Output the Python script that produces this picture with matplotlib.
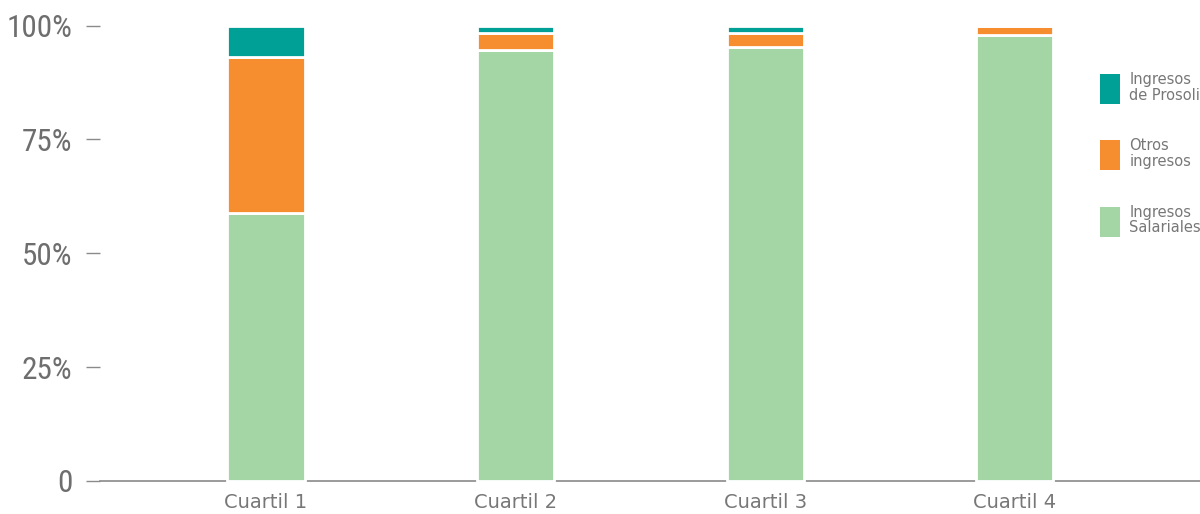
import matplotlib
matplotlib.use("Agg")
import matplotlib.pyplot as plt
import numpy as np

# Income composition by quartile (% of total income)
categories = ["Cuartil 1", "Cuartil 2", "Cuartil 3", "Cuartil 4"]
ingresos_salariales = [58.8, 94.7, 95.2, 98.0]
otros_ingresos = [34.3, 3.7, 3.2, 2.0]
ingresos_prosoli = [6.9, 1.6, 1.6, 0.0]

series_labels = ["Ingresos\nSalariales", "Otros\ningresos", "Ingresos\nde Prosoli"]
series_colors = ["#a3d5a5", "#f68d2e", "#00a096"]

y_ticks = [0, 25, 50, 75, 100]
y_tick_labels = ["0", "25%", "50%", "75%", "100%"]

W, H = 1200, 514
fig = plt.figure(figsize=(W / 100, H / 100), dpi=100)
left, right, bottom, top = 100, 1200, 481, 25.5
ax = fig.add_axes([left / W, (H - bottom) / H, (right - left) / W, (bottom - top) / H])

x = np.arange(len(categories))
width = 0.31
base = np.zeros(len(categories))
handles = []
for vals, lab, col in zip([ingresos_salariales, otros_ingresos, ingresos_prosoli],
                          series_labels, series_colors):
    vals = np.array(vals, dtype=float)
    bars = ax.bar(x, vals, width, bottom=base, color=col, edgecolor="white",
                  linewidth=2.0, label=lab, clip_on=False, zorder=3)
    handles.append(bars)
    base += vals

ax.set_xlim(-0.665, 3.742)
ax.set_ylim(0, 100)

for side in ["left", "right", "top"]:
    ax.spines[side].set_visible(False)
ax.spines["bottom"].set_color("#8a8a8a")
ax.spines["bottom"].set_linewidth(1.2)

ax.set_yticks(y_ticks)
ax.set_yticklabels(y_tick_labels, fontfamily=["Roboto Condensed", "DejaVu Sans"],
                   fontsize=22.5, color="#6e6e6e")
ax.tick_params(axis="y", direction="out", length=10, width=1.0, color="#8a8a8a", pad=10)

ax.set_xticks(x)
ax.set_xticklabels(categories, fontfamily="DejaVu Sans", fontsize=14, color="#777777")
ax.tick_params(axis="x", length=0, pad=9)

leg = fig.legend(handles[::-1], series_labels[::-1], loc="upper left",
                 bbox_to_anchor=(1100 / W, 1 - 72 / H), frameon=False,
                 borderpad=0, borderaxespad=0, handlelength=1.4, handleheight=2.8,
                 handletextpad=0.6, labelspacing=2.36,
                 prop={"family": "DejaVu Sans", "size": 10.5})
for t in leg.get_texts():
    t.set_color("#777777")
    t.set_linespacing(1.05)
for p in leg.get_patches():
    p.set_edgecolor("none")

fig.savefig("out.png", dpi=100)
